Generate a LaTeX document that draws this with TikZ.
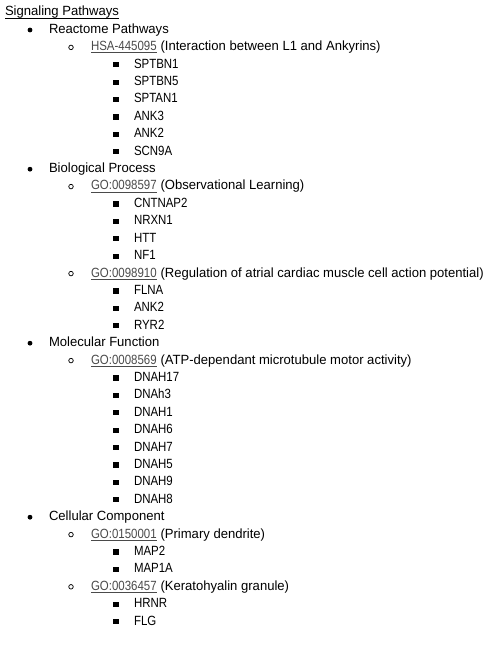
\documentclass[tikz,border=0pt]{standalone}
\usepackage{fontspec}
\setmainfont[FakeStretch=0.98]{Liberation Sans}
\newfontfamily\capsfont[FakeStretch=0.86]{Liberation Sans}
\definecolor{linkc}{HTML}{4A4A4A}
\tikzset{
  txt/.style={anchor=base west, inner sep=0pt, outer sep=0pt, font=\fontsize{10pt}{12pt}\selectfont, text=black},
  captxt/.style={txt, font=\fontsize{10pt}{12pt}\capsfont},
  linktxt/.style={captxt, text=linkc},
  dotA/.style={circle, fill=black, inner sep=0pt, minimum size=3.6pt},
  dotB/.style={circle, draw=black, line width=0.55pt, inner sep=0pt, minimum size=3.4pt},
  sqC/.style={rectangle, fill=black, inner sep=0pt, minimum size=3.9pt},
  uline/.style={line width=0.75pt},
}
% level 1 item: name, index, text
\newcommand\itA[3]{%
  \node[txt] (#1) at (49,{16+17.4*#2}) {#3};
  \node[dotA] (#1b) at (30,{12.6+17.4*#2}) {};}
% level 2 item: name, index, link, rest
\newcommand\itB[4]{%
  \node[linktxt] (#1) at (91,{16+17.4*#2}) {#3};
  \draw[uline, linkc] ([yshift=-1.6pt]#1.base west) -- ([yshift=-1.6pt]#1.base east);
  \node[txt] (#1r) at ([xshift=2.9pt]#1.base east) {#4};
  \node[dotB] (#1b) at (71,{12.6+17.4*#2}) {};}
% level 3 item: name, index, text
\newcommand\itC[3]{%
  \node[captxt] (#1) at (134,{16+17.4*#2}) {#3};
  \node[sqC] (#1b) at (116,{12.6+17.4*#2}) {};}
\begin{document}
\begin{tikzpicture}[x=0.75pt,y=-0.75pt]
\useasboundingbox (0,0) rectangle (490,645);
\node[txt] (title) at (5,16) {Signaling Pathways};
\draw[uline, black] ([yshift=-1.6pt]title.base west) -- ([yshift=-1.6pt]title.base east);
\itA{rp}{1}{Reactome Pathways}
\itB{hsa}{2}{HSA-445095}{(Interaction between L1 and Ankyrins)}
\itC{g3}{3}{SPTBN1}
\itC{g4}{4}{SPTBN5}
\itC{g5}{5}{SPTAN1}
\itC{g6}{6}{ANK3}
\itC{g7}{7}{ANK2}
\itC{g8}{8}{SCN9A}
\itA{bp}{9}{Biological Process}
\itB{goa}{10}{GO:0098597}{(Observational Learning)}
\itC{g11}{11}{CNTNAP2}
\itC{g12}{12}{NRXN1}
\itC{g13}{13}{HTT}
\itC{g14}{14}{NF1}
\itB{gob}{15}{GO:0098910}{(Regulation of atrial cardiac muscle cell action potential)}
\itC{g16}{16}{FLNA}
\itC{g17}{17}{ANK2}
\itC{g18}{18}{RYR2}
\itA{mf}{19}{Molecular Function}
\itB{goc}{20}{GO:0008569}{(ATP-dependant microtubule motor activity)}
\itC{g21}{21}{DNAH17}
\itC{g22}{22}{DNAh3}
\itC{g23}{23}{DNAH1}
\itC{g24}{24}{DNAH6}
\itC{g25}{25}{DNAH7}
\itC{g26}{26}{DNAH5}
\itC{g27}{27}{DNAH9}
\itC{g28}{28}{DNAH8}
\itA{cc}{29}{Cellular Component}
\itB{god}{30}{GO:0150001}{(Primary dendrite)}
\itC{g31}{31}{MAP2}
\itC{g32}{32}{MAP1A}
\itB{goe}{33}{GO:0036457}{(Keratohyalin granule)}
\itC{g34}{34}{HRNR}
\itC{g35}{35}{FLG}
\end{tikzpicture}
\end{document}
